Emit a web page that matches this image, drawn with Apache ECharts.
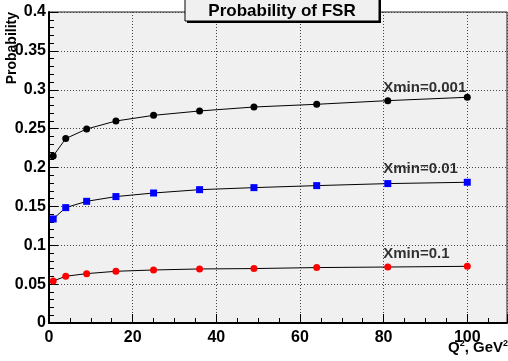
<!DOCTYPE html>
<html>
<head>
<meta charset="utf-8">
<script src="https://cdn.jsdelivr.net/npm/echarts@6/dist/echarts.min.js"></script>
<style>
  html, body { margin: 0; padding: 0; background: #fff; }
  #chart { width: 508px; height: 361px; }
</style>
</head>
<body>
<div id="chart"></div>
<script>
// Q^2 values (GeV^2)
const q2 = [1, 4, 9, 16, 25, 36, 49, 64, 81, 100];

const probXmin0001 = [0.2148, 0.2372, 0.2495, 0.2598, 0.2671, 0.2727, 0.2778, 0.2813, 0.2860, 0.2903];
const probXmin001  = [0.1338, 0.1484, 0.1565, 0.1626, 0.1672, 0.1715, 0.1741, 0.1767, 0.1793, 0.1810];
const probXmin01   = [0.0540, 0.0601, 0.0635, 0.0665, 0.0682, 0.0695, 0.0700, 0.0713, 0.0720, 0.0729];

const seriesNames = ['Xmin=0.001', 'Xmin=0.01', 'Xmin=0.1'];
const labelAnchors = [[79.8, 0.3028], [79.8, 0.1986], [79.8, 0.0884]];

const chart = echarts.init(document.getElementById('chart'));
const font = '"Liberation Sans", Arial, sans-serif';

function makeSeries(name, values, color, symbol) {
  return {
    name: name,
    type: 'line',
    data: q2.map((x, i) => [x, values[i]]),
    symbol: symbol,
    symbolSize: 7,
    lineStyle: { color: '#000', width: 1 },
    itemStyle: { color: color },
    z: 3
  };
}

// label-only series for the curve annotations
const annotation = {
  type: 'scatter',
  data: labelAnchors.map((p, i) => ({ value: p, name: seriesNames[i] })),
  symbol: 'circle',
  symbolSize: 1,
  itemStyle: { color: 'rgba(0,0,0,0)' },
  silent: true,
  z: 5,
  label: {
    show: true,
    position: 'right',
    distance: 0,
    formatter: p => p.name,
    color: '#000',
    fontFamily: font,
    fontWeight: 'bold',
    fontSize: 15
  }
};

const tickFont = { color: '#000', fontFamily: font, fontWeight: 'bold', fontSize: 16 };

const option = {
  animation: false,
  backgroundColor: '#fff',
  grid: {
    left: 49, right: 1, top: 12, bottom: 38,
    show: true,
    backgroundColor: '#f0f0f0',
    borderColor: '#222',
    borderWidth: 1
  },
  xAxis: {
    type: 'value',
    min: 0, max: 109.5, interval: 20,
    axisLine: { show: true, onZero: false, lineStyle: { color: '#000', width: 2 } },
    axisTick: { show: true, inside: true, length: 9, lineStyle: { color: '#000' } },
    minorTick: { show: true, splitNumber: 4, length: 5, lineStyle: { color: '#000' } },
    splitLine: { show: true, lineStyle: { color: '#444', type: [1, 2], width: 1 } },
    axisLabel: Object.assign({ margin: 7, showMaxLabel: false }, tickFont)
  },
  yAxis: {
    type: 'value',
    min: 0, max: 0.4, interval: 0.05,
    axisLine: { show: true, onZero: false, lineStyle: { color: '#000', width: 2 } },
    axisTick: { show: true, inside: true, length: 9, lineStyle: { color: '#000' } },
    minorTick: { show: true, splitNumber: 5, length: 5, lineStyle: { color: '#000' } },
    splitLine: { show: true, lineStyle: { color: '#444', type: [1, 2], width: 1 } },
    axisLabel: Object.assign({ margin: 3 }, tickFont)
  },
  series: [
    makeSeries(seriesNames[0], probXmin0001, '#000000', 'circle'),
    makeSeries(seriesNames[1], probXmin001, '#0000ff', 'rect'),
    makeSeries(seriesNames[2], probXmin01, '#ff0000', 'circle'),
    annotation
  ],
  graphic: [
    // title box with shadow
    { type: 'rect', shape: { x: 187, y: 0, width: 194, height: 23 }, style: { fill: '#000' }, z: 10 },
    { type: 'rect', shape: { x: 185, y: -1, width: 194, height: 22 }, style: { fill: '#f0f0f0', stroke: '#000', lineWidth: 1 }, z: 11 },
    {
      type: 'text', x: 282, y: 11, z: 12,
      style: {
        text: 'Probability of FSR', fill: '#000',
        font: 'bold 17px ' + font, textAlign: 'center', textVerticalAlign: 'middle'
      }
    },
    {
      type: 'text', x: 12, y: 12, rotation: Math.PI / 2, z: 12,
      style: {
        text: 'Probability', fill: '#000',
        font: 'bold 14px ' + font, textAlign: 'right', textVerticalAlign: 'middle'
      }
    },
    {
      type: 'text', right: 0, top: 339, z: 12,
      style: {
        text: '{b|Q}{s|2}{b|, GeV}{s|2}',
        rich: {
          b: { fontFamily: font, fontWeight: 'bold', fontSize: 15, fill: '#000', color: '#000' },
          s: { fontFamily: font, fontWeight: 'bold', fontSize: 9, fill: '#000', color: '#000', verticalAlign: 'top', padding: [0, 0, 8, 0] }
        }
      }
    }
  ]
};

chart.setOption(option);
</script>
</body>
</html>
